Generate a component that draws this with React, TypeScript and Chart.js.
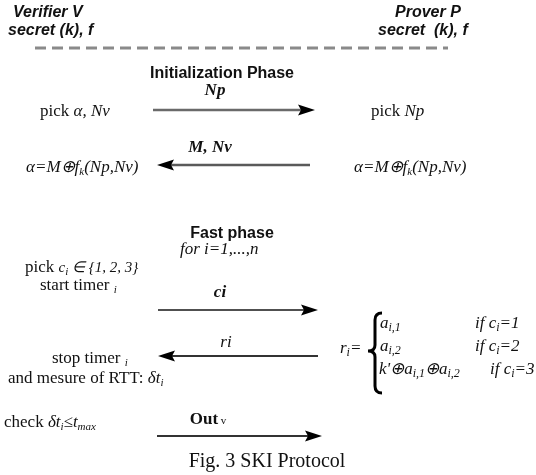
import React, { useEffect, useRef } from "react";
import { Chart, registerables } from "chart.js";

Chart.register(...registerables);

const SANS = '"Liberation Sans", Arial, sans-serif';
const SERIF = '"Liberation Serif", "Times New Roman", serif';

// Messages (arrows): tail x, head x, y
const arrowTail = [153, 310, 158, 318, 157];
const arrowHead = [315, 157, 318, 158, 322];
const arrowY = [110, 165, 310, 356, 436];
const arrowColor = ["#6a6a6a", "#5a5a5a", "#505050", "#333333", "#333333"];

// Separator dashed line
const dashX = [35, 448];
const dashY = 48;

// Brace of the r_i definition
const braceTop = 313;
const braceBottom = 393;
const braceX = 375;

type Run = [string, string];
type Label = { x: number; y: number; align?: "left" | "center"; runs: Run[] };

const styles: Record<string, { font: string; dy: number; color?: string }> = {
  H: { font: `italic bold 16px ${SANS}`, dy: 0 },
  A: { font: `bold 16px ${SANS}`, dy: 0 },
  r: { font: `17px ${SERIF}`, dy: 0 },
  i: { font: `italic 17px ${SERIF}`, dy: 0 },
  i15: { font: `italic 15px ${SERIF}`, dy: 0 },
  b: { font: `bold 17px ${SERIF}`, dy: 0 },
  bi: { font: `italic bold 17px ${SERIF}`, dy: 0 },
  sub: { font: `italic 11px ${SERIF}`, dy: 3 },
  sm: { font: `11px ${SERIF}`, dy: 0 },
  m: { font: `italic 17px ${SERIF}`, dy: 0 },
  msub: { font: `italic 12px ${SERIF}`, dy: 3 },
  cap: { font: `20px ${SERIF}`, dy: 0 },
};

const labels: Label[] = [
  { x: 13, y: 17, runs: [["Verifier V", "H"]] },
  { x: 8, y: 35, runs: [["secret (k), f", "H"]] },
  { x: 395, y: 17, runs: [["Prover P", "H"]] },
  { x: 378, y: 35, runs: [["secret  (k), f", "H"]] },
  { x: 222, y: 78, align: "center", runs: [["Initialization Phase", "A"]] },
  { x: 215, y: 95, align: "center", runs: [["Np", "bi"]] },
  { x: 40, y: 116, runs: [["pick ", "r"], ["α, Nv", "i"]] },
  { x: 371, y: 116, runs: [["pick ", "r"], ["Np", "i"]] },
  { x: 210, y: 152, align: "center", runs: [["M, Nv", "bi"]] },
  { x: 26, y: 172, runs: [["α=M⊕f", "i"], ["k", "sub"], ["(Np,Nv)", "i"]] },
  { x: 354, y: 172, runs: [["α=M⊕f", "i"], ["k", "sub"], ["(Np,Nv)", "i"]] },
  { x: 232, y: 238, align: "center", runs: [["Fast phase", "A"]] },
  { x: 180, y: 254, runs: [["for i=1,...,n", "i"]] },
  { x: 25, y: 272, runs: [["pick ", "r"], ["c", "i15"], ["i", "sub"], [" ∈ {1, 2, 3}", "i15"]] },
  { x: 40, y: 290, runs: [["start timer ", "r"], ["i", "sub"]] },
  { x: 220, y: 297, align: "center", runs: [["ci", "bi"]] },
  { x: 226, y: 347, align: "center", runs: [["ri", "i"]] },
  { x: 52, y: 363, runs: [["stop timer ", "r"], ["i", "sub"]] },
  { x: 8, y: 383, runs: [["and mesure of RTT: ", "r"], ["δt", "i"], ["i", "sub"]] },
  { x: 340, y: 353, runs: [["r", "m"], ["i", "msub"], ["=", "m"]] },
  { x: 380, y: 328, runs: [["a", "m"], ["i,1", "msub"]] },
  { x: 475, y: 328, runs: [["if c", "m"], ["i", "msub"], ["=1", "m"]] },
  { x: 380, y: 351, runs: [["a", "m"], ["i,2", "msub"]] },
  { x: 475, y: 351, runs: [["if c", "m"], ["i", "msub"], ["=2", "m"]] },
  { x: 379, y: 374, runs: [["k'⊕a", "m"], ["i,1", "msub"], ["⊕a", "m"], ["i,2", "msub"]] },
  { x: 490, y: 374, runs: [["if c", "m"], ["i", "msub"], ["=3", "m"]] },
  { x: 4, y: 427, runs: [["check ", "r"], ["δt", "i"], ["i", "sub"], ["≤t", "i"], ["max", "sub"]] },
  { x: 208, y: 424, align: "center", runs: [["Out", "b"], [" v", "sm"]] },
  { x: 267, y: 467, align: "center", runs: [["Fig. 3 SKI Protocol", "cap"]] },
];

const diagramPlugin = {
  id: "diagram",
  afterDatasetsDraw(chart: any) {
    const ctx: CanvasRenderingContext2D = chart.ctx;
    const xs = chart.scales.x;
    const ys = chart.scales.y;
    const px = (v: number) => xs.getPixelForValue(v);
    const py = (v: number) => ys.getPixelForValue(v);
    ctx.save();
    // arrowheads
    arrowY.forEach((y, k) => {
      const hx = px(arrowHead[k]);
      const tx = px(arrowTail[k]);
      const yy = py(y);
      const dir = hx > tx ? 1 : -1;
      ctx.beginPath();
      ctx.moveTo(hx, yy);
      ctx.lineTo(hx - dir * 17, yy - 5.5);
      ctx.lineTo(hx - dir * 14, yy);
      ctx.lineTo(hx - dir * 17, yy + 5.5);
      ctx.closePath();
      ctx.fillStyle = "#000";
      ctx.fill();
    });
    // brace
    const bx = px(braceX);
    const t = py(braceTop);
    const b = py(braceBottom);
    const m = (t + b) / 2 - 2;
    ctx.beginPath();
    ctx.moveTo(bx + 7, t);
    ctx.quadraticCurveTo(bx, t, bx, t + 7);
    ctx.lineTo(bx, m - 6);
    ctx.quadraticCurveTo(bx, m, bx - 7, m);
    ctx.quadraticCurveTo(bx, m, bx, m + 6);
    ctx.lineTo(bx, b - 7);
    ctx.quadraticCurveTo(bx, b, bx + 7, b);
    ctx.strokeStyle = "#000";
    ctx.lineWidth = 3;
    ctx.stroke();
    // labels
    ctx.textBaseline = "alphabetic";
    ctx.textAlign = "left";
    labels.forEach((lab) => {
      let total = 0;
      lab.runs.forEach(([txt, st]) => {
        ctx.font = styles[st].font;
        total += ctx.measureText(txt).width;
      });
      let x = px(lab.x) - (lab.align === "center" ? total / 2 : 0);
      const y = py(lab.y);
      lab.runs.forEach(([txt, st]) => {
        const s = styles[st];
        ctx.font = s.font;
        ctx.fillStyle = s.color || "#111";
        ctx.fillText(txt, x, y + s.dy);
        x += ctx.measureText(txt).width;
      });
    });
    ctx.restore();
  },
};

export default function App() {
  const ref = useRef<HTMLCanvasElement>(null);
  useEffect(() => {
    document.body.style.margin = "0";
    const datasets: any[] = [
      {
        data: [
          { x: dashX[0], y: dashY },
          { x: dashX[1], y: dashY },
        ],
        showLine: true,
        borderColor: "#8a8a8a",
        borderWidth: 2.8,
        borderDash: [11, 6],
        pointRadius: 0,
      },
      ...arrowY.map((y, k) => ({
        data: [
          { x: arrowTail[k], y },
          { x: arrowHead[k] - (arrowHead[k] > arrowTail[k] ? 14 : -14), y },
        ],
        showLine: true,
        borderColor: arrowColor[k],
        borderWidth: k < 2 ? 2.6 : 2.2,
        pointRadius: 0,
      })),
    ];
    const chart = new Chart(ref.current!, {
      type: "scatter",
      data: { datasets },
      options: {
        animation: false,
        responsive: false,
        layout: { padding: 0 },
        plugins: { legend: { display: false }, tooltip: { enabled: false } },
        scales: {
          x: { type: "linear", min: 0, max: 536, display: false },
          y: { type: "linear", min: 0, max: 475, reverse: true, display: false },
        },
      },
      plugins: [diagramPlugin],
    });
    return () => chart.destroy();
  }, []);
  return (
    <div style={{ position: "fixed", left: 0, top: 0, width: 536, height: 475, background: "#fff" }}>
      <canvas ref={ref} width={536} height={475} style={{ width: 536, height: 475 }} />
    </div>
  );
}
